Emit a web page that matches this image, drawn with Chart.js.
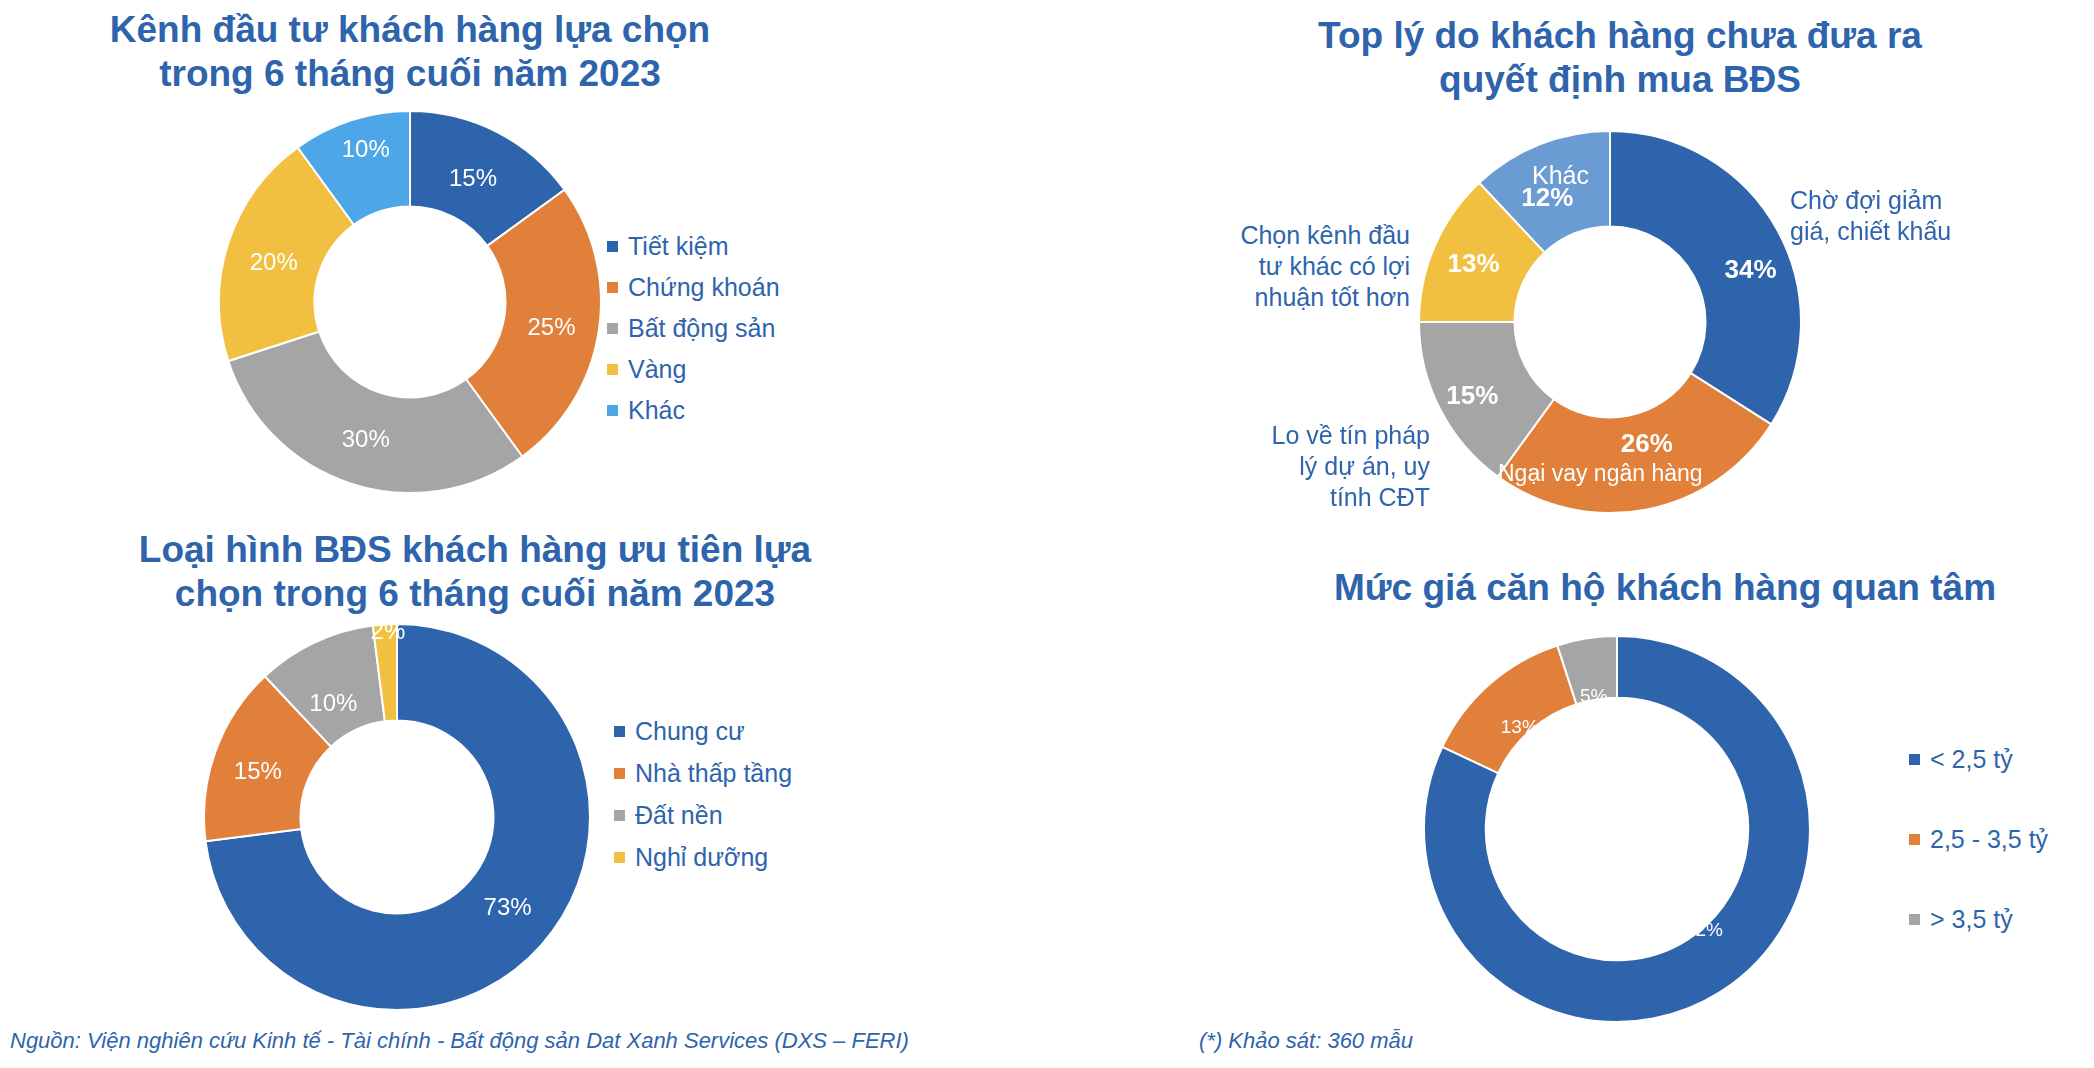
<!DOCTYPE html>
<html lang="vi">
<head>
<meta charset="UTF-8" />
<title>Khảo sát BĐS</title>
<script src="https://cdn.jsdelivr.net/npm/chart.js"></script>
<style>
  body { margin: 0; width: 2094px; height: 1068px; background: #fff; font-family: "Liberation Sans", Arial, sans-serif; position: relative; overflow: hidden; }
  .title { position: absolute; color: #2E64AC; font-weight: bold; font-size: 37px; text-align: center; line-height: 44px; }
  canvas { position: absolute; }
  .legend { position: absolute; color: #2E64AC; font-size: 25px; }
  .legend div { height: 41px; display: flex; align-items: center; }
  .legend span { display: inline-block; width: 11px; height: 11px; margin-right: 10px; }
  .lab { position: absolute; color: #2E64AC; font-size: 25px; line-height: 31px; }
  .foot { position: absolute; top: 1028px; color: #2E64AC; font-style: italic; font-size: 22px; }
</style>
</head>
<body>
<div class="title" style="left:60px;top:8px;width:700px">Kênh đầu tư khách hàng lựa chọn<br>trong 6 tháng cuối năm 2023</div>
<div class="title" style="left:1240px;top:14px;width:760px">Top lý do khách hàng chưa đưa ra<br>quyết định mua BĐS</div>
<div class="title" style="left:90px;top:528px;width:770px">Loại hình BĐS khách hàng ưu tiên lựa<br>chọn trong 6 tháng cuối năm 2023</div>
<div class="title" style="left:1250px;top:566px;width:830px">Mức giá căn hộ khách hàng quan tâm</div>

<canvas id="c1" width="384" height="384" style="left:218px;top:110px"></canvas>
<canvas id="c2" width="384" height="384" style="left:1418px;top:130px"></canvas>
<canvas id="c3" width="388" height="388" style="left:203px;top:623px"></canvas>
<canvas id="c4" width="388" height="388" style="left:1423px;top:635px"></canvas>

<div class="legend" id="l1" style="left:607px;top:226px"></div>
<div class="legend" id="l3" style="left:614px;top:710px"></div>
<div class="legend" id="l4" style="left:1909px;top:719px"></div>

<div class="lab" style="left:1790px;top:185px">Chờ đợi giảm<br>giá, chiết khấu</div>
<div class="lab" style="left:1200px;top:220px;text-align:right;width:210px">Chọn kênh đầu<br>tư khác có lợi<br>nhuận tốt hơn</div>
<div class="lab" style="left:1230px;top:420px;text-align:right;width:200px">Lo về tín pháp<br>lý dự án, uy<br>tính CĐT</div>
<div class="lab" style="left:1498px;top:458px;color:#fff;font-size:23px">Ngại vay ngân hàng</div>
<div class="lab" style="left:1532px;top:160px;color:#fff;font-size:25px">Khác</div>

<div class="foot" style="left:10px">Nguồn: Viện nghiên cứu Kinh tế - Tài chính - Bất động sản Dat Xanh Services (DXS – FERI)</div>
<div class="foot" style="left:1199px">(*) Khảo sát: 360 mẫu</div>

<script>
const BLUE = '#2E64AC', ORANGE = '#E0803A', GRAY = '#A5A5A5', YELLOW = '#F2C040', LBLUE = '#4DA6E8', MBLUE = '#6A9BD2';

const kenhLabels = ['Tiết kiệm', 'Chứng khoán', 'Bất động sản', 'Vàng', 'Khác'];
const kenhValues = [15, 25, 30, 20, 10];
const kenhColors = [BLUE, ORANGE, GRAY, YELLOW, LBLUE];

const lyDoLabels = ['Chờ đợi giảm giá, chiết khấu', 'Ngại vay ngân hàng', 'Lo về tín pháp lý dự án, uy tính CĐT', 'Chọn kênh đầu tư khác có lợi nhuận tốt hơn', 'Khác'];
const lyDoValues = [34, 26, 15, 13, 12];
const lyDoColors = [BLUE, ORANGE, GRAY, YELLOW, MBLUE];

const loaiLabels = ['Chung cư', 'Nhà thấp tầng', 'Đất nền', 'Nghỉ dưỡng'];
const loaiValues = [73, 15, 10, 2];
const loaiColors = [BLUE, ORANGE, GRAY, YELLOW];

const giaLabels = ['< 2,5 tỷ', '2,5 - 3,5 tỷ', '> 3,5 tỷ'];
const giaValues = [82, 13, 5];
const giaColors = [BLUE, ORANGE, GRAY];

const valueLabels = {
  id: 'valueLabels',
  afterDatasetsDraw(chart, args, opts) {
    const ctx = chart.ctx;
    const meta = chart.getDatasetMeta(0);
    ctx.save();
    ctx.fillStyle = '#fff';
    ctx.font = opts.font;
    ctx.textAlign = 'center';
    ctx.textBaseline = 'middle';
    meta.data.forEach((arc, i) => {
      const p = arc.tooltipPosition();
      const off = (opts.offsets && opts.offsets[i]) || [0, 0];
      ctx.fillText(chart.data.datasets[0].data[i] + '%', p.x + off[0], p.y + off[1]);
    });
    ctx.restore();
  }
};

function donut(id, labels, values, colors, cutout, font, offsets) {
  new Chart(document.getElementById(id), {
    type: 'doughnut',
    data: { labels: labels, datasets: [{ data: values, backgroundColor: colors, borderColor: '#fff', borderWidth: 2 }] },
    options: {
      responsive: false, animation: false, cutout: cutout,
      plugins: { legend: { display: false }, tooltip: { enabled: false }, valueLabels: { font: font, offsets: offsets } }
    },
    plugins: [valueLabels]
  });
}

function legend(id, labels, colors, rowH) {
  const el = document.getElementById(id);
  labels.forEach((l, i) => {
    const d = document.createElement('div');
    if (rowH) d.style.height = rowH + 'px';
    d.innerHTML = `<span style="background:${colors[i]}"></span>${l}`;
    el.appendChild(d);
  });
}

donut('c1', kenhLabels, kenhValues, kenhColors, '50%', '24px "Liberation Sans", Arial', [[-2,5],[0,4],[0,2],[0,6],[0,-15]]);
donut('c2', lyDoLabels, lyDoValues, lyDoColors, '50%', 'bold 26px "Liberation Sans", Arial', [[15,18],[10,-18],[-10,10],[-5,0],[-10,10]]);
donut('c3', loaiLabels, loaiValues, loaiColors, '50%', '24px "Liberation Sans", Arial', [[2,-4],[-3,4],[-2,18],[0,-40]]);
donut('c4', giaLabels, giaValues, giaColors, '68%', '19px "Liberation Sans", Arial', [[0,-35],[10,20],[2,28]]);

legend('l1', kenhLabels, kenhColors);
legend('l3', loaiLabels, loaiColors, 42);
legend('l4', giaLabels, giaColors, 80);
</script>
</body>
</html>
